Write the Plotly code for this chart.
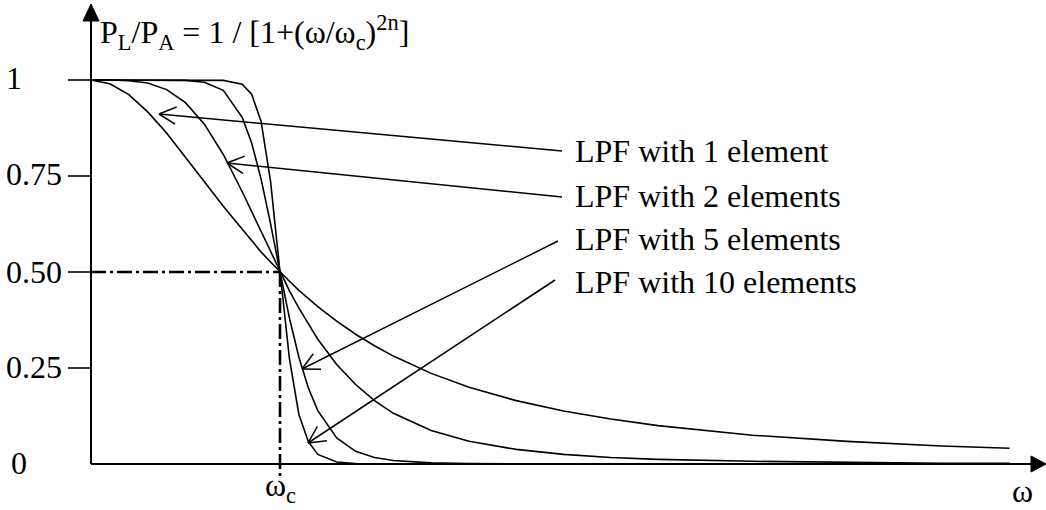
import numpy as np
import plotly.graph_objects as go

# ---- data (omega in units of omega_c) ----
omega = [0, 0.1, 0.2, 0.3, 0.4, 0.5, 0.6, 0.7, 0.8, 0.85, 0.9, 0.95, 1.0, 1.05, 1.1,
         1.15, 1.2, 1.3, 1.4, 1.5, 1.6, 1.8, 2.0, 2.25, 2.5, 2.75, 3.0, 3.5, 4.0, 4.5, 4.86]
lpf1 = [1.000, 0.990, 0.962, 0.917, 0.862, 0.800, 0.735, 0.671, 0.610, 0.581, 0.552, 0.526, 0.500, 0.476, 0.452,
        0.431, 0.410, 0.372, 0.338, 0.308, 0.281, 0.236, 0.200, 0.165, 0.138, 0.117, 0.100, 0.075, 0.059, 0.047, 0.041]
lpf2 = [1.000, 1.000, 0.998, 0.992, 0.975, 0.941, 0.885, 0.806, 0.709, 0.657, 0.604, 0.551, 0.500, 0.451, 0.406,
        0.364, 0.325, 0.259, 0.207, 0.165, 0.132, 0.087, 0.059, 0.038, 0.025, 0.017, 0.012, 0.007, 0.004, 0.002, 0.002]
lpf5 = [1.000, 1.000, 1.000, 1.000, 1.000, 0.999, 0.994, 0.973, 0.903, 0.836, 0.742, 0.626, 0.500, 0.380, 0.278,
        0.198, 0.139, 0.068, 0.033, 0.017, 0.009, 0.003, 0.001, 0.000, 0.000, 0.000, 0.000, 0.000, 0.000, 0.000, 0.000]
lpf10 = [1.000, 1.000, 1.000, 1.000, 1.000, 1.000, 1.000, 0.999, 0.989, 0.963, 0.892, 0.736, 0.500, 0.274, 0.129,
         0.058, 0.025, 0.005, 0.001, 0.000, 0.000, 0.000, 0.000, 0.000, 0.000, 0.000, 0.000, 0.000, 0.000, 0.000, 0.000]

y_ticks = [0, 0.25, 0.50, 0.75, 1]
y_tick_text = ["0", "0.25", "0.50", "0.75", "1"]
labels = ["LPF with 1 element", "LPF with 2 elements", "LPF with 5 elements", "LPF with 10 elements"]
title_text = "P<sub>L</sub>/P<sub>A</sub> = 1 / [1+(ω/ω<sub>c</sub>)<sup>2n</sup>]"

# ---- layout geometry ----
W, H = 1046, 510
X0, XS = 91, 189     # pixel of omega=0, pixels per omega_c
Y0, YS = 464, 384    # pixel of 0, pixels per unit
FONT = "Liberation Serif, Times New Roman, serif"
FS = 32


def dx(p):
    return (p - X0) / XS


def dy(p):
    return (Y0 - p) / YS


fig = go.Figure()
for ys in (lpf1, lpf2, lpf5, lpf10):
    fig.add_trace(go.Scatter(x=omega, y=ys, mode="lines", line=dict(color="black", width=1.6),
                             hoverinfo="skip", showlegend=False))

shapes = []
line = dict(color="black", width=2)
# axes
shapes.append(dict(type="line", x0=0, y0=0, x1=0, y1=dy(20), line=line))
shapes.append(dict(type="line", x0=0, y0=0, x1=dx(1032), y1=0, line=line))
shapes.append(dict(type="path", path=f"M{dx(83)},{dy(21)} L{dx(91)},{dy(4)} L{dx(99)},{dy(21)} Z",
                   fillcolor="black", line=dict(color="black", width=1)))
shapes.append(dict(type="path", path=f"M{dx(1031)},{dy(456)} L{dx(1046)},{dy(464)} L{dx(1031)},{dy(472)} Z",
                   fillcolor="black", line=dict(color="black", width=1)))
# tick marks
for t in y_ticks[1:]:
    shapes.append(dict(type="line", x0=dx(68), y0=t, x1=0, y1=t, line=dict(color="black", width=1.6)))
# dash-dot guides at the cutoff
dd = dict(color="black", width=2.6, dash="15px,4px,3px,4px")
shapes.append(dict(type="line", x0=0, y0=0.5, x1=1, y1=0.5, line=dd))
shapes.append(dict(type="line", x0=1, y0=0.5, x1=1, y1=dy(476), line=dd))

# callout arrows (tail pixel, tip pixel)
callouts = [((562, 151), (159, 114)), ((562, 197), (227, 163)),
            ((558, 241), (302, 369)), ((555, 280), (308, 443))]
arm, half = 19, np.deg2rad(27)
for (tx, ty), (hx, hy) in callouts:
    cl = dict(color="black", width=1.5)
    shapes.append(dict(type="line", x0=dx(tx), y0=dy(ty), x1=dx(hx), y1=dy(hy), line=cl))
    ang = np.arctan2(ty - hy, tx - hx)
    for s in (-1, 1):
        ex = hx + arm * np.cos(ang + s * half)
        ey = hy + arm * np.sin(ang + s * half)
        shapes.append(dict(type="line", x0=dx(hx), y0=dy(hy), x1=dx(ex), y1=dy(ey), line=cl))

ann = []
tick_px = {0: 463, 0.25: 367, 0.50: 272, 0.75: 174, 1: 78}
for t, txt in zip(y_ticks, y_tick_text):
    ann.append(dict(x=dx(4 if t else 9), y=dy(tick_px[t]), text=txt, xanchor="left", yanchor="middle",
                    showarrow=False, font=dict(family=FONT, size=FS, color="black")))
label_py = [151, 196, 239, 282]
for txt, p in zip(labels, label_py):
    ann.append(dict(x=dx(573), y=dy(p), text=txt, xanchor="left", yanchor="middle",
                    showarrow=False, font=dict(family=FONT, size=FS, color="black")))
ann.append(dict(x=dx(98), y=dy(32), text=title_text, xanchor="left", yanchor="middle",
                showarrow=False, font=dict(family=FONT, size=FS, color="black")))
ann.append(dict(x=1, y=dy(487), text="ω<sub>c</sub>", xanchor="center", yanchor="middle",
                showarrow=False, font=dict(family=FONT, size=FS, color="black")))
ann.append(dict(x=dx(1022), y=dy(491), text="ω", xanchor="center", yanchor="middle",
                showarrow=False, borderpad=0, font=dict(family=FONT, size=FS, color="black")))

fig.update_layout(
    width=W, height=H, margin=dict(l=0, r=0, t=0, b=0),
    paper_bgcolor="white", plot_bgcolor="white",
    xaxis=dict(range=[-X0 / XS, (W - X0) / XS], visible=False, fixedrange=True),
    yaxis=dict(range=[(Y0 - H) / YS, Y0 / YS], visible=False, fixedrange=True),
    shapes=shapes, annotations=ann, showlegend=False,
)
fig.write_html("out.html", config={"displayModeBar": False},
               post_script="document.body.style.margin='0px';")
